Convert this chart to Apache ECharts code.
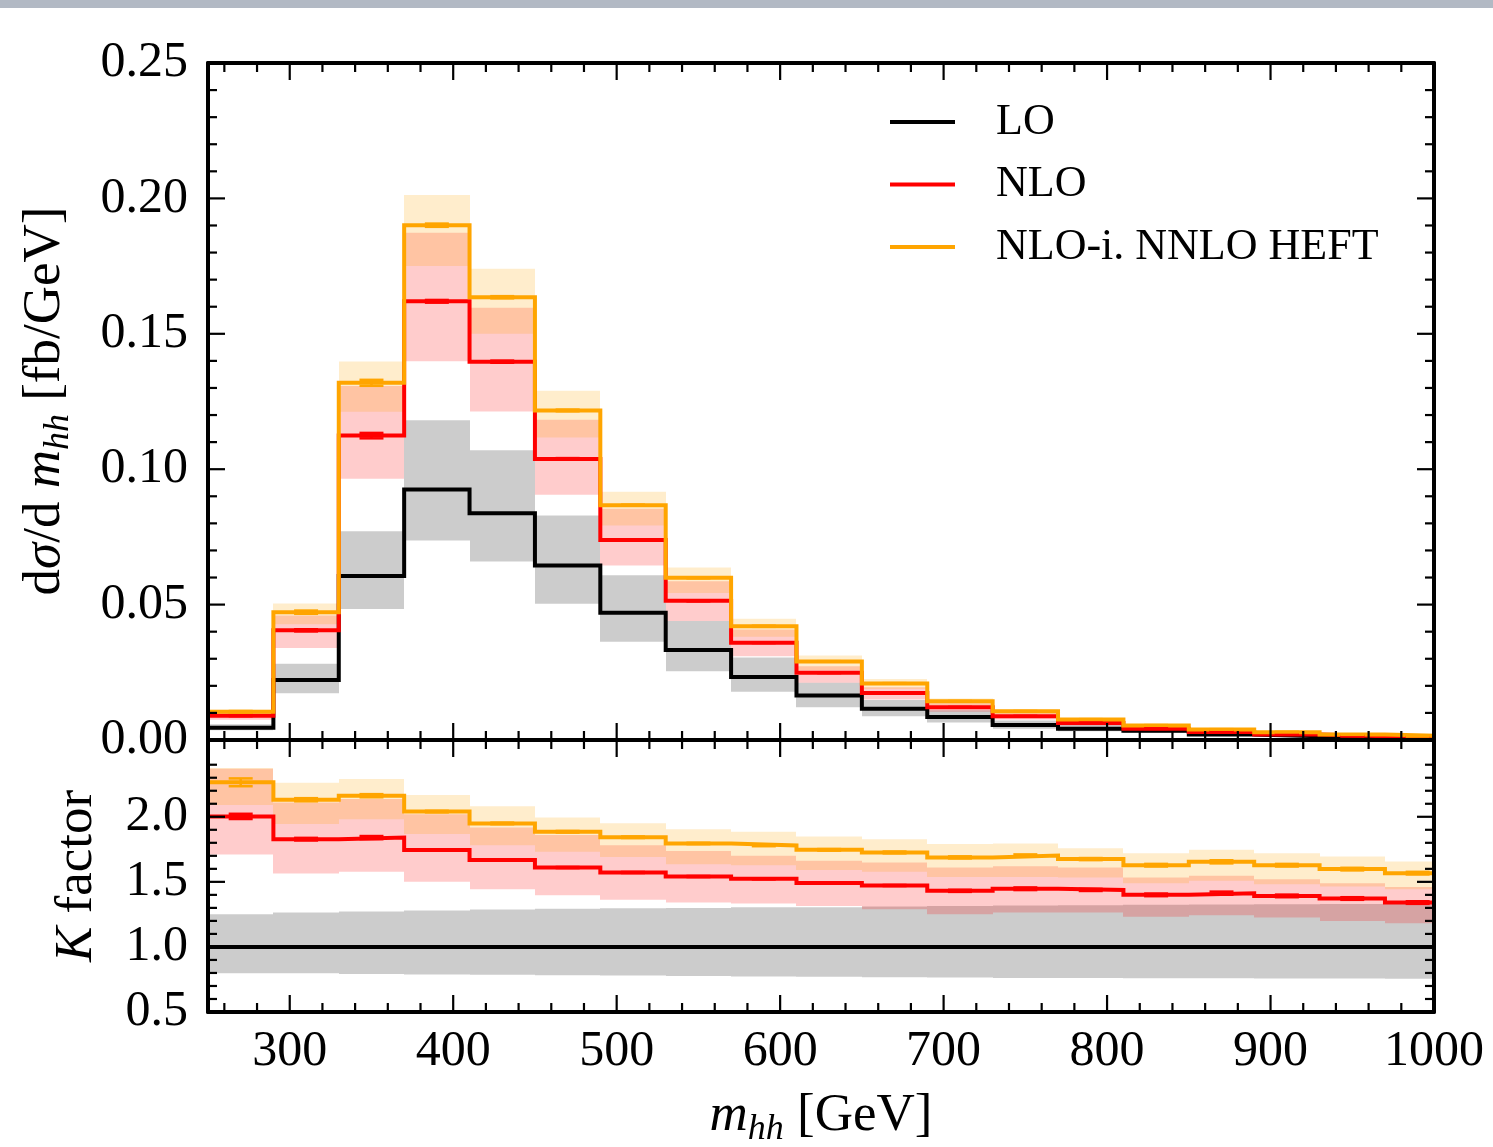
<!DOCTYPE html>
<html><head><meta charset="utf-8">
<script src="https://cdn.jsdelivr.net/npm/echarts@6/dist/echarts.min.js"></script>
<style>html,body{margin:0;padding:0;background:#fff}#c{width:1493px;height:1147px}</style>
</head><body><div id="c"></div>
<script>
// ---------- bins (m_hh, GeV) ----------
const binLow    = [250,290,330,370,410,450,490,530,570,610,650,690,730,770,810,850,890,930,970];
const binHigh   = [290,330,370,410,450,490,530,570,610,650,690,730,770,810,850,890,930,970,1010];
const binCenter = [270,310,350,390,430,470,510,550,590,630,670,710,750,790,830,870,910,950,990];

// ---------- upper panel: dsigma/dm_hh [fb/GeV] ----------
const loVal   = [0.0045,0.0222,0.0606,0.0925,0.0837,0.0644,0.0470,0.0332,0.0233,0.0164,0.0115,0.0085,0.0055,0.0042,0.0034,0.0020,0.0014,0.0010,0.0007];
const loHigh  = [0.0058,0.0282,0.0771,0.1181,0.1070,0.0829,0.0608,0.0439,0.0305,0.0211,0.0148,0.0110,0.0072,0.0055,0.0045,0.0026,0.0019,0.0013,0.0009];
const loLow   = [0.0036,0.0173,0.0484,0.0737,0.0659,0.0503,0.0363,0.0254,0.0178,0.0121,0.0088,0.0065,0.0042,0.0032,0.0026,0.0015,0.0011,0.0008,0.0005];

const nloVal  = [0.0090,0.0405,0.1124,0.1620,0.1397,0.1038,0.0739,0.0514,0.0359,0.0248,0.0174,0.0121,0.0088,0.0063,0.0042,0.0030,0.0020,0.0014,0.0010];
const nloHigh = [0.0105,0.0460,0.1307,0.1873,0.1596,0.1183,0.0854,0.0586,0.0408,0.0272,0.0195,0.0136,0.0099,0.0071,0.0047,0.0034,0.0023,0.0016,0.0011];
const nloLow  = [0.0075,0.0340,0.0965,0.1399,0.1213,0.0906,0.0644,0.0439,0.0309,0.0211,0.0150,0.0104,0.0076,0.0054,0.0036,0.0026,0.0017,0.0012,0.0009];
const nloErr  = [0.0002,0.0004,0.0010,0.0005,0.0004,0.0003,0.0002,0.0002,0.0001,0.0001,0.0001,0.0001,0.0001,0.0001,0.0001,0.0001,0.0001,0.0001,0.0001];

const nnVal   = [0.0104,0.0472,0.1319,0.1901,0.1635,0.1217,0.0867,0.0599,0.0420,0.0290,0.0209,0.0143,0.0106,0.0076,0.0054,0.0039,0.0029,0.0020,0.0014];
const nnHigh  = [0.0112,0.0504,0.1398,0.2013,0.1740,0.1290,0.0917,0.0637,0.0448,0.0312,0.0225,0.0153,0.0113,0.0081,0.0058,0.0042,0.0031,0.0021,0.0015];
const nnLow   = [0.0095,0.0427,0.1212,0.1750,0.1500,0.1117,0.0792,0.0543,0.0381,0.0258,0.0188,0.0128,0.0095,0.0068,0.0048,0.0035,0.0026,0.0018,0.0012];
const nnErr   = [0.0003,0.0006,0.0011,0.0006,0.0004,0.0003,0.0002,0.0002,0.0002,0.0001,0.0001,0.0001,0.0001,0.0001,0.0001,0.0001,0.0001,0.0001,0.0001];

// ---------- lower panel: K factor ----------
const kLoVal   = [1,1,1,1,1,1,1,1,1,1,1,1,1,1,1,1,1,1,1];
const kLoHigh  = [1.252,1.265,1.272,1.280,1.288,1.293,1.298,1.300,1.305,1.305,1.310,1.315,1.318,1.320,1.325,1.326,1.328,1.330,1.330];
const kLoLow   = [0.798,0.797,0.792,0.788,0.786,0.783,0.780,0.777,0.773,0.770,0.767,0.765,0.762,0.762,0.760,0.759,0.758,0.757,0.756];

const kNloVal  = [2.003,1.828,1.840,1.744,1.667,1.610,1.572,1.541,1.523,1.492,1.472,1.431,1.447,1.438,1.400,1.413,1.392,1.372,1.341];
const kNloHigh = [2.370,2.110,2.136,2.020,1.918,1.860,1.782,1.738,1.700,1.662,1.649,1.611,1.620,1.611,1.534,1.546,1.520,1.490,1.460];
const kNloLow  = [1.710,1.565,1.577,1.500,1.444,1.398,1.362,1.341,1.333,1.315,1.290,1.252,1.264,1.264,1.231,1.244,1.226,1.200,1.182];
const kNloErr  = [0.020,0.010,0.012,0.004,0.004,0.004,0.004,0.004,0.004,0.004,0.004,0.008,0.010,0.008,0.010,0.012,0.010,0.010,0.010];

const kNnVal   = [2.265,2.131,2.162,2.040,1.949,1.885,1.843,1.795,1.780,1.746,1.726,1.688,1.703,1.675,1.628,1.654,1.628,1.598,1.567];
const kNnHigh  = [2.375,2.262,2.290,2.167,2.080,1.995,1.951,1.905,1.885,1.849,1.828,1.790,1.795,1.759,1.720,1.746,1.720,1.695,1.657];
const kNnLow   = [2.090,1.944,1.982,1.867,1.782,1.731,1.691,1.636,1.628,1.592,1.577,1.538,1.538,1.534,1.490,1.508,1.482,1.464,1.444];
const kNnErr   = [0.030,0.012,0.012,0.006,0.006,0.006,0.006,0.005,0.006,0.006,0.007,0.008,0.008,0.008,0.010,0.012,0.010,0.010,0.010];

// ---------- axis ticks ----------
const xMajorTicks   = [300,400,500,600,700,800,900,1000];
const yTopMajorTicks = [0,0.05,0.10,0.15,0.20,0.25];
const yBotMajorTicks = [0.5,1.0,1.5,2.0];
const xMinorTicks = [], yTopMinorTicks = [], yBotMinorTicks = [];
for (let v = 260; v < 1000; v += 20) if (v % 100 !== 0) xMinorTicks.push(v);
for (let i = 1; i < 25; i++) if (i % 5 !== 0) yTopMinorTicks.push(i / 100);
for (let i = 6; i <= 24; i++) if (i % 5 !== 0) yBotMinorTicks.push(i / 10);

const seriesNames = ['LO', 'NLO', 'NLO-i. NNLO HEFT'];
const C = { lo: '#000000', nlo: '#ff0000', nn: '#ffa500' };
const BAND = { lo: 'rgba(0,0,0,0.2)', nlo: 'rgba(255,0,0,0.2)', nn: 'rgba(255,165,0,0.2)' };
const FONT = 'Liberation Serif';

// ---------- builders ----------
function stepData(vals) {
  const d = binLow.map((x, i) => [x, vals[i]]);
  d.push([binHigh[binHigh.length - 1], vals[vals.length - 1]]);
  return d;
}
function bandData(lo, hi) { return binLow.map((x, i) => [x, binHigh[i], lo[i], hi[i]]); }
function errData(vals, errs) { return binCenter.map((x, i) => [x, vals[i], errs[i]]); }

function bandRender(fill) {
  return function (params, api) {
    const cs = params.coordSys;
    const a = api.coord([api.value(0), api.value(3)]);
    const b = api.coord([api.value(1), api.value(2)]);
    const x0 = Math.round(Math.max(a[0], cs.x)), x1 = Math.round(Math.min(b[0], cs.x + cs.width));
    const y0 = Math.max(a[1], cs.y), y1 = Math.min(b[1], cs.y + cs.height);
    if (x1 <= x0 || y1 <= y0) return null;
    return { type: 'rect', shape: { x: x0, y: y0, width: x1 - x0, height: y1 - y0 }, style: { fill: fill } };
  };
}
function errRender(color) {
  return function (params, api) {
    const xc = api.value(0), y = api.value(1), e = api.value(2);
    const t = api.coord([xc, y + e]), b = api.coord([xc, y - e]);
    const h = 12, st = { stroke: color, lineWidth: 2.5 };
    return { type: 'group', children: [
      { type: 'line', shape: { x1: t[0], y1: t[1], x2: b[0], y2: b[1] }, style: st },
      { type: 'line', shape: { x1: t[0] - h, y1: t[1], x2: t[0] + h, y2: t[1] }, style: st },
      { type: 'line', shape: { x1: b[0] - h, y1: b[1], x2: b[0] + h, y2: b[1] }, style: st }
    ]};
  };
}
function xTickRender(params, api) {
  const cs = params.coordSys;
  const px = api.coord([api.value(0), api.value(1)])[0];
  const len = api.value(2) ? 17 : 9;
  const st = { stroke: '#000', lineWidth: 2.2 };
  return { type: 'group', children: [
    { type: 'line', shape: { x1: px, y1: cs.y + cs.height, x2: px, y2: cs.y + cs.height - len }, style: st },
    { type: 'line', shape: { x1: px, y1: cs.y, x2: px, y2: cs.y + len }, style: st }
  ]};
}
function yTickRender(params, api) {
  const cs = params.coordSys;
  const py = api.coord([api.value(0), api.value(1)])[1];
  const len = api.value(2) ? 17 : 9;
  const st = { stroke: '#000', lineWidth: 2.2 };
  return { type: 'group', children: [
    { type: 'line', shape: { x1: cs.x, y1: py, x2: cs.x + len, y2: py }, style: st },
    { type: 'line', shape: { x1: cs.x + cs.width, y1: py, x2: cs.x + cs.width - len, y2: py }, style: st }
  ]};
}

function panelSeries(ax, sets, yMin, yMajor, yMinor) {
  const out = [];
  sets.forEach(s => out.push({
    type: 'custom', xAxisIndex: ax, yAxisIndex: ax, z: 1, silent: true,
    renderItem: bandRender(s.band), encode: { x: [0, 1], y: [2, 3] },
    data: bandData(s.low, s.high)
  }));
  sets.forEach((s, i) => out.push({
    type: 'line', name: seriesNames[i], xAxisIndex: ax, yAxisIndex: ax, z: 2 + i * 0.1,
    step: 'end', showSymbol: false, clip: true, color: s.color,
    lineStyle: { color: s.color, width: 4, join: 'miter', cap: 'butt' },
    data: stepData(s.val)
  }));
  sets.forEach(s => { if (s.err) out.push({
    type: 'custom', xAxisIndex: ax, yAxisIndex: ax, z: 3, silent: true,
    renderItem: errRender(s.color), encode: { x: 0, y: 1 },
    data: errData(s.val, s.err)
  }); });
  out.push({
    type: 'custom', xAxisIndex: ax, yAxisIndex: ax, z: 6, silent: true,
    renderItem: xTickRender, encode: { x: 0, y: 1 },
    data: xMajorTicks.map(v => [v, yMin, 1]).concat(xMinorTicks.map(v => [v, yMin, 0]))
  });
  out.push({
    type: 'custom', xAxisIndex: ax, yAxisIndex: ax, z: 6, silent: true,
    renderItem: yTickRender, encode: { x: 0, y: 1 },
    data: yMajor.map(v => [250, v, 1]).concat(yMinor.map(v => [250, v, 0]))
  });
  return out;
}

const labelStyle = { fontFamily: FONT, fontSize: 50, color: '#000' };
const axLine = { show: true, onZero: false, lineStyle: { color: '#000', width: 4 } };
function xAx(grid, pos, showLabel) {
  return { type: 'value', gridIndex: grid, position: pos, min: 250, max: 1000, interval: 50, z: 10,
    axisLine: axLine, axisTick: { show: false }, splitLine: { show: false },
    axisLabel: { show: showLabel, margin: 15, ...labelStyle, formatter: v => (v % 100 === 0 ? String(v) : '') } };
}
function yAx(grid, pos, min, max, interval, showLabel, fmt) {
  return { type: 'value', gridIndex: grid, position: pos, min: min, max: max, interval: interval, z: 10,
    axisLine: axLine, axisTick: { show: false }, splitLine: { show: false },
    axisLabel: { show: showLabel, margin: 20, ...labelStyle, formatter: fmt, showMaxLabel: true } };
}

const chart = echarts.init(document.getElementById('c'), null, { renderer: 'canvas' });
const titleRich = {
  n: { fontFamily: FONT, fontSize: 53, lineHeight: 64, color: '#000' },
  i: { fontFamily: FONT, fontSize: 53, lineHeight: 64, fontStyle: 'italic', color: '#000' },
  s: { fontFamily: FONT, fontSize: 36, lineHeight: 30, fontStyle: 'italic', verticalAlign: 'bottom', color: '#000' }
};
chart.setOption({
  animation: false,
  backgroundColor: '#ffffff',
  grid: [
    { left: 208, right: 59, top: 63, height: 677 },
    { left: 208, right: 59, top: 740, height: 272 }
  ],
  xAxis: [ xAx(0, 'bottom', false), xAx(0, 'top', false), xAx(1, 'bottom', true), xAx(1, 'top', false) ],
  yAxis: [
    yAx(0, 'left', 0, 0.25, 0.05, true, v => v.toFixed(2)),
    yAx(0, 'right', 0, 0.25, 0.05, false, v => ''),
    yAx(1, 'left', 0.5, 2.59, 0.5, true, v => (v <= 2.0001 ? v.toFixed(1) : '')),
    yAx(1, 'right', 0.5, 2.59, 0.5, false, v => '')
  ],
  legend: {
    data: seriesNames, orient: 'vertical', left: 885, top: 95, itemWidth: 65, itemHeight: 4,
    itemGap: 18.5, icon: 'rect', selectedMode: false,
    textStyle: { fontFamily: FONT, fontSize: 44, lineHeight: 44, color: '#000', padding: [0, 0, 0, 36] }
  },
  graphic: [
    { type: 'rect', shape: { x: 0, y: 0, width: 1493, height: 8 }, style: { fill: '#b2b9c4' }, z: 100 },
    { type: 'text', x: 45, y: 401, rotation: Math.PI / 2, z: 100,
      style: { text: '{n|d}{i|σ}{n|/d }{i|m}{s|hh}{n| [fb/GeV]}', rich: titleRich, align: 'center', verticalAlign: 'middle' } },
    { type: 'text', x: 77, y: 876, rotation: Math.PI / 2, z: 100,
      style: { text: '{i|K}{n| factor}', rich: titleRich, align: 'center', verticalAlign: 'middle' } },
    { type: 'text', x: 821, y: 1116, z: 100,
      style: { text: '{i|m}{s|hh}{n| [GeV]}', rich: titleRich, align: 'center', verticalAlign: 'middle' } }
  ],
  series: [].concat(
    panelSeries(0, [
      { val: loVal, low: loLow, high: loHigh, color: C.lo, band: BAND.lo },
      { val: nloVal, low: nloLow, high: nloHigh, color: C.nlo, band: BAND.nlo, err: nloErr },
      { val: nnVal, low: nnLow, high: nnHigh, color: C.nn, band: BAND.nn, err: nnErr }
    ], 0, yTopMajorTicks, yTopMinorTicks),
    panelSeries(2, [
      { val: kLoVal, low: kLoLow, high: kLoHigh, color: C.lo, band: BAND.lo },
      { val: kNloVal, low: kNloLow, high: kNloHigh, color: C.nlo, band: BAND.nlo, err: kNloErr },
      { val: kNnVal, low: kNnLow, high: kNnHigh, color: C.nn, band: BAND.nn, err: kNnErr }
    ], 0.5, yBotMajorTicks, yBotMinorTicks)
  )
});
</script></body></html>
